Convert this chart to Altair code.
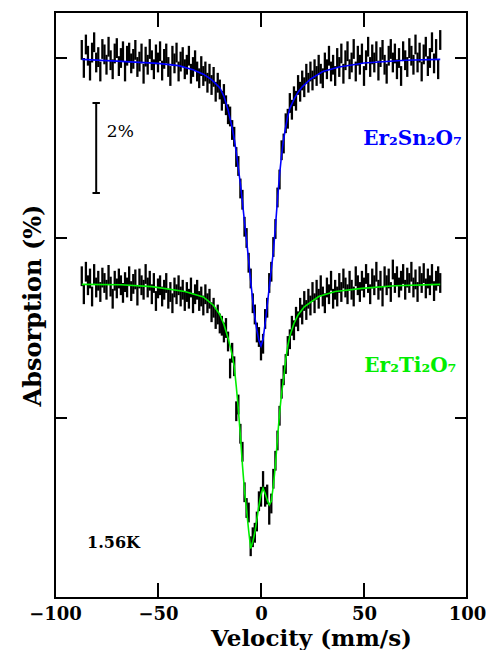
import altair as alt
import pandas as pd

# ---------------- data ----------------
velocity = list(range(-87, 88))  # mm/s, spectrometer channels

sn_absorption = [
    0.18, -0.22, 0.30, 0.05, -0.28, 0.12, 0.35, -0.10, 0.02, -0.30,
    0.20, 0.08, -0.15, 0.25, -0.05, -0.25, 0.10, 0.22, -0.18, 0.00,
    0.15, -0.30, 0.05, 0.12, -0.12, -0.02, 0.18, -0.20, -0.08, 0.10,
    -0.35, 0.03, -0.15, 0.20, -0.05, -0.25, 0.08, -0.10, 0.15, -0.28,
    -0.02, 0.10, -0.20, -0.40, 0.05, -0.12, 0.12, -0.30, -0.08, 0.02,
    -0.25, -0.15, 0.05, -0.35, -0.20, -0.05, -0.30, -0.45, -0.18, -0.40,
    -0.30, -0.55, -0.35, -0.60, -0.42, -0.75, -0.55, -0.70, -0.95, -0.80,
    -1.05, -1.25, -1.30, -1.60, -1.75, -2.20, -2.40, -2.90, -3.15, -3.75,
    -4.00, -4.55, -4.90, -5.45, -5.70, -6.10, -6.20, -6.50, -6.35, -5.80,
    -5.55, -5.00, -4.75, -4.20, -3.80, -3.10, -2.70, -2.05, -1.90, -1.45,
    -1.35, -1.00, -1.15, -0.85, -0.95, -0.60, -0.75, -0.50, -0.65, -0.35,
    -0.55, -0.30, -0.50, -0.25, -0.40, -0.15, -0.35, -0.45, -0.10, -0.25,
    0.05, -0.30, -0.15, -0.40, 0.00, -0.20, 0.10, -0.35, -0.05, 0.15,
    -0.25, -0.10, 0.20, -0.30, 0.05, -0.15, 0.10, -0.40, -0.05, 0.25,
    -0.20, 0.08, -0.10, 0.15, -0.28, 0.02, 0.18, -0.15, -0.35, 0.05,
    0.20, -0.10, 0.10, -0.25, 0.00, -0.40, 0.15, -0.05, -0.20, 0.22,
    0.05, -0.15, 0.30, -0.10, 0.12, -0.30, 0.08, 0.25, -0.18, 0.00,
    0.35, -0.12, 0.20, -0.25, 0.40,
]

ti_absorption = [
    -4.85, -5.25, -4.75, -5.05, -4.90, -5.30, -4.80, -5.10, -4.95, -5.20,
    -4.88, -5.00, -5.15, -4.82, -5.08, -5.35, -4.95, -5.12, -4.90, -5.05,
    -5.22, -4.98, -5.10, -4.85, -5.18, -5.02, -4.92, -5.28, -4.90, -5.05,
    -5.15, -4.80, -5.10, -4.95, -5.25, -5.00, -5.40, -5.12, -5.05, -5.30,
    -5.15, -5.00, -5.35, -5.20, -5.45, -5.10, -5.25, -5.05, -5.30, -5.15,
    -5.40, -5.20, -5.35, -5.10, -5.45, -5.25, -5.15, -5.40, -5.30, -5.50,
    -5.25, -5.45, -5.35, -5.65, -5.55, -5.80, -5.70, -5.90, -5.95, -6.10,
    -6.00, -6.30, -6.90, -6.55, -6.85, -7.85, -7.70, -8.35, -8.75, -9.65,
    -10.00, -10.10, -10.85, -10.65, -10.55, -10.30, -9.85, -9.75, -9.40, -9.75,
    -9.70, -10.15, -9.90, -9.35, -8.95, -8.50, -7.95, -7.35, -7.05, -6.80,
    -6.40, -6.25, -5.95, -6.05, -5.75, -5.85, -5.55, -5.70, -5.40, -5.60,
    -5.35, -5.50, -5.20, -5.45, -5.15, -5.35, -5.05, -5.30, -5.45, -5.10,
    -5.25, -4.95, -5.35, -5.15, -5.30, -5.00, -5.20, -4.90, -5.10, -5.25,
    -4.95, -5.15, -5.30, -4.85, -5.05, -5.20, -4.95, -5.10, -4.80, -5.00,
    -5.25, -4.90, -5.05, -4.75, -5.15, -4.95, -5.30, -4.85, -5.05, -4.90,
    -5.20, -4.70, -5.00, -4.85, -5.10, -4.95, -4.80, -5.15, -4.88, -5.00,
    -4.75, -5.10, -4.92, -5.20, -4.85, -5.00, -4.78, -5.12, -4.90, -5.05,
    -4.80, -5.18, -4.95, -4.85, -5.00,
]

error_half = 0.22

sn_fit_v = [-87, -70, -50, -40, -33, -28, -24, -20, -18, -16,
            -15, -14, -13, -12, -11, -10, -9, -8, -7, -6,
            -5, -4, -3, -2, -1, 0, 1, 2, 3, 4,
            5, 6, 7, 8, 9, 10, 11, 12, 13, 14,
            16, 18, 20, 24, 30, 38, 50, 70, 87]
sn_fit_y = [-0.03, -0.07, -0.12, -0.17, -0.26, -0.36, -0.48, -0.66, -0.85, -1.15,
            -1.35, -1.55, -1.80, -2.10, -2.45, -2.80, -3.20, -3.65, -4.05, -4.50,
            -4.95, -5.40, -5.75, -6.05, -6.28, -6.40, -6.25, -5.90, -5.50, -5.10,
            -4.70, -4.30, -3.75, -3.15, -2.60, -2.15, -1.80, -1.53, -1.30, -1.12,
            -0.92, -0.76, -0.64, -0.47, -0.30, -0.20, -0.11, -0.05, -0.03]

ti_fit_v = [-87, -68, -53, -37, -28, -23, -20, -18, -16, -15,
            -14, -13, -12, -11, -10, -9, -8, -7, -6, -5,
            -4, -3, -2, -1, 0, 1, 2, 3, 4, 5,
            6, 7, 8, 9, 10, 11, 12, 13, 14, 16,
            18, 21, 28, 36, 49, 65, 87]
ti_fit_y = [-5.03, -5.04, -5.08, -5.19, -5.31, -5.50, -5.70, -5.92, -6.22, -6.40,
            -6.60, -6.85, -7.30, -7.80, -8.40, -9.05, -9.62, -10.05, -10.50, -10.90,
            -10.75, -10.55, -10.25, -9.95, -9.70, -9.56, -9.68, -9.82, -9.93, -9.85,
            -9.50, -9.05, -8.45, -7.90, -7.45, -7.12, -6.70, -6.40, -6.18, -5.90,
            -5.71, -5.53, -5.30, -5.19, -5.12, -5.06, -5.03]

x_ticks = [-50, 0, 50]
y_ticks = [0, -4, -8]
x_labels = [-100, -50, 0, 50, 100]

scale_bar_x = [-80]
scale_bar_y = [-1.0, -3.0]
scale_cap_x = [-81.8, -78.2]

compound_text = ["Er₂Sn₂O₇", "Er₂Ti₂O₇"]
compound_color = ["#0000ff", "#00ee00"]
compound_x = [73.5, 72.5]
compound_y = [-1.8, -6.85]

note_text = ["1.56K", "2%"]
note_x = [-71.6, -68.3]
note_y = [-10.78, -1.64]
note_weight = ["bold", "normal"]

# ---------------- chart ----------------
W, H = 412, 586
xs = alt.Scale(domain=[-100, 100], nice=False, zero=False)
ys = alt.Scale(domain=[-12.0, 1.022], nice=False, zero=False)

x_axis = alt.Axis(values=x_labels, title="Velocity (mm/s)", grid=False,
                  domain=False, ticks=False, tickSize=0,
                  labelFont="DejaVu Serif", labelFontWeight="bold",
                  labelFontSize=18, labelBaseline="alphabetic",
                  labelPadding=21, labelFlush=False, labelColor="black",
                  labelExpr="replace(datum.label, '-', '\u2212')",
                  titleFont="DejaVu Serif", titleFontWeight="bold",
                  titleFontSize=23, titleColor="black",
                  titleX=256, titleY=47, titleBaseline="alphabetic",
                  titleAlign="center", titleAnchor="start")
y_axis = alt.Axis(title="Absorption (%)", labels=False, ticks=False,
                  tickSize=0, domain=False, grid=False, values=y_ticks,
                  titleFont="DejaVu Serif", titleFontWeight="bold",
                  titleFontSize=24, titleColor="black",
                  titlePadding=10)


def X(field):
    return alt.X(field, scale=xs, axis=x_axis, title="Velocity (mm/s)")


def Y(field):
    return alt.Y(field, scale=ys, axis=y_axis, title="Absorption (%)")


spec = pd.DataFrame({
    "v": velocity * 2,
    "a": sn_absorption + ti_absorption,
})
spec["lo"] = spec["a"] - error_half
spec["hi"] = spec["a"] + error_half

bars = alt.Chart(spec).mark_rule(color="black", strokeWidth=2.3).encode(
    x=X("v:Q"), y=Y("lo:Q"), y2="hi:Q")

sn_fit = alt.Chart(pd.DataFrame({"v": sn_fit_v, "a": sn_fit_y})).mark_line(
    color="#0000ff", strokeWidth=1.6).encode(x=X("v:Q"), y=Y("a:Q"))

ti_fit = alt.Chart(pd.DataFrame({"v": ti_fit_v, "a": ti_fit_y})).mark_line(
    color="#00ee00", strokeWidth=1.6).encode(x=X("v:Q"), y=Y("a:Q"))

ytick_df = pd.DataFrame({"t": y_ticks})
xtick_df = pd.DataFrame({"t": x_ticks})
ytl = alt.Chart(ytick_df).mark_rule(color="black", strokeWidth=2).encode(
    y=Y("t:Q"), x=alt.value(0), x2=alt.value(12))
ytr = alt.Chart(ytick_df).mark_rule(color="black", strokeWidth=2).encode(
    y=Y("t:Q"), x=alt.value(W - 12), x2=alt.value(W))
xtb = alt.Chart(xtick_df).mark_rule(color="black", strokeWidth=2).encode(
    x=X("t:Q"), y=alt.value(H - 15), y2=alt.value(H))
xtt = alt.Chart(xtick_df).mark_rule(color="black", strokeWidth=2).encode(
    x=X("t:Q"), y=alt.value(0), y2=alt.value(15))

bar_df = pd.DataFrame({"x": scale_bar_x, "y1": [scale_bar_y[0]], "y2": [scale_bar_y[1]]})
sbar = alt.Chart(bar_df).mark_rule(color="black", strokeWidth=2).encode(
    x=X("x:Q"), y=Y("y1:Q"), y2="y2:Q")
cap_df = pd.DataFrame({"x1": [scale_cap_x[0]] * 2, "x2": [scale_cap_x[1]] * 2,
                       "y": scale_bar_y})
caps = alt.Chart(cap_df).mark_rule(color="black", strokeWidth=2).encode(
    x=X("x1:Q"), x2="x2:Q", y=Y("y:Q"))

comp_df = pd.DataFrame({"t": compound_text, "c": compound_color,
                        "x": compound_x, "y": compound_y})
comp = alt.Chart(comp_df).mark_text(font="DejaVu Serif", fontWeight="bold",
                                    fontSize=20, align="center", baseline="middle").encode(
    x=X("x:Q"), y=Y("y:Q"), text="t:N", color=alt.Color("c:N", scale=None))

note_df = pd.DataFrame({"t": note_text, "x": note_x, "y": note_y, "w": note_weight})
note_b = alt.Chart(note_df[note_df["w"] == "bold"]).mark_text(
    font="DejaVu Serif", fontWeight="bold", fontSize=16, align="center",
    baseline="middle", color="black").encode(x=X("x:Q"), y=Y("y:Q"), text="t:N")
note_n = alt.Chart(note_df[note_df["w"] == "normal"]).mark_text(
    font="DejaVu Serif", fontWeight="normal", fontSize=17, align="center",
    baseline="middle", color="black").encode(x=X("x:Q"), y=Y("y:Q"), text="t:N")

chart = alt.layer(bars, sn_fit, ti_fit, ytl, ytr, xtb, xtt, sbar, caps, comp,
                  note_b, note_n).properties(
    width=W, height=H,
    autosize=alt.AutoSizeParams(type="none"),
    padding={"left": 47, "top": 4, "right": 19, "bottom": 52},
    background="white",
).configure_view(stroke="black", strokeWidth=2)

chart.save("out.html", embed_options={"renderer": "svg", "actions": False})
